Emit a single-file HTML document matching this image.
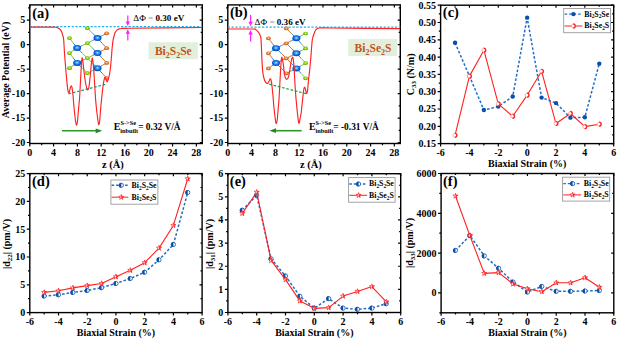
<!DOCTYPE html><html><head><meta charset="utf-8"><style>html,body{margin:0;padding:0;background:#fff;overflow:hidden;width:617px;height:339px;}svg{display:block;}</style></head><body>
<svg width="617" height="339" viewBox="0 0 617 339">
<defs>
<radialGradient id="gBi" cx="50%" cy="45%" r="55%"><stop offset="0" stop-color="#b8f6ff"/><stop offset="0.3" stop-color="#3aa6fa"/><stop offset="0.7" stop-color="#0c5fdc"/><stop offset="1" stop-color="#0a3c98"/></radialGradient>
<radialGradient id="gS" cx="50%" cy="45%" r="55%"><stop offset="0" stop-color="#e8ff90"/><stop offset="0.45" stop-color="#8fd81a"/><stop offset="1" stop-color="#4f9a08"/></radialGradient>
<radialGradient id="gSe" cx="50%" cy="45%" r="55%"><stop offset="0" stop-color="#ffe0c0"/><stop offset="0.4" stop-color="#f09048"/><stop offset="1" stop-color="#b05010"/></radialGradient>
<clipPath id="cla"><rect x="29.8" y="4.9" width="172.5" height="138.6"/></clipPath>
<clipPath id="clb"><rect x="227.8" y="4.9" width="172.5" height="138.6"/></clipPath>
</defs>
<rect width="617" height="339" fill="#fff"/>
<g font-family="'Liberation Serif', serif" font-weight="bold" fill="#000">
<rect x="29.80" y="4.90" width="172.50" height="138.60" fill="none" stroke="#000" stroke-width="1.4"/>
<path d="M29.80,143.50v3 M29.80,4.90v2.6 M53.59,143.50v3 M53.59,4.90v2.6 M77.39,143.50v3 M77.39,4.90v2.6 M101.18,143.50v3 M101.18,4.90v2.6 M124.97,143.50v3 M124.97,4.90v2.6 M148.77,143.50v3 M148.77,4.90v2.6 M172.56,143.50v3 M172.56,4.90v2.6 M196.35,143.50v3 M196.35,4.90v2.6 M41.70,143.50v1.8 M41.70,4.90v1.6 M65.49,143.50v1.8 M65.49,4.90v1.6 M89.28,143.50v1.8 M89.28,4.90v1.6 M113.08,143.50v1.8 M113.08,4.90v1.6 M136.87,143.50v1.8 M136.87,4.90v1.6 M160.66,143.50v1.8 M160.66,4.90v1.6 M184.46,143.50v1.8 M184.46,4.90v1.6 M29.80,142.52h-3 M202.30,142.52h-2.6 M29.80,118.03h-3 M202.30,118.03h-2.6 M29.80,93.55h-3 M202.30,93.55h-2.6 M29.80,69.06h-3 M202.30,69.06h-2.6 M29.80,44.57h-3 M202.30,44.57h-2.6 M29.80,20.08h-3 M202.30,20.08h-2.6 M29.80,130.28h-1.8 M202.30,130.28h-1.6 M29.80,105.79h-1.8 M202.30,105.79h-1.6 M29.80,81.30h-1.8 M202.30,81.30h-1.6 M29.80,56.81h-1.8 M202.30,56.81h-1.6 M29.80,32.33h-1.8 M202.30,32.33h-1.6 M29.80,7.84h-1.8 M202.30,7.84h-1.6" stroke="#000" stroke-width="1.2" fill="none"/>
<text x="29.80" y="155.80" text-anchor="middle" font-size="10.0">0</text>
<text x="53.59" y="155.80" text-anchor="middle" font-size="10.0">4</text>
<text x="77.39" y="155.80" text-anchor="middle" font-size="10.0">8</text>
<text x="101.18" y="155.80" text-anchor="middle" font-size="10.0">12</text>
<text x="124.97" y="155.80" text-anchor="middle" font-size="10.0">16</text>
<text x="148.77" y="155.80" text-anchor="middle" font-size="10.0">20</text>
<text x="172.56" y="155.80" text-anchor="middle" font-size="10.0">24</text>
<text x="196.35" y="155.80" text-anchor="middle" font-size="10.0">28</text>
<text x="25.20" y="145.92" text-anchor="end" font-size="10.0">-20</text>
<text x="25.20" y="121.43" text-anchor="end" font-size="10.0">-15</text>
<text x="25.20" y="96.95" text-anchor="end" font-size="10.0">-10</text>
<text x="25.20" y="72.46" text-anchor="end" font-size="10.0">-5</text>
<text x="25.20" y="47.97" text-anchor="end" font-size="10.0">0</text>
<text x="25.20" y="23.48" text-anchor="end" font-size="10.0">5</text>
<text x="112.90" y="168.3" text-anchor="middle" font-size="10.5">z (Å)</text>
<rect x="227.80" y="4.90" width="172.50" height="138.60" fill="none" stroke="#000" stroke-width="1.4"/>
<path d="M227.80,143.50v3 M227.80,4.90v2.6 M251.59,143.50v3 M251.59,4.90v2.6 M275.39,143.50v3 M275.39,4.90v2.6 M299.18,143.50v3 M299.18,4.90v2.6 M322.97,143.50v3 M322.97,4.90v2.6 M346.77,143.50v3 M346.77,4.90v2.6 M370.56,143.50v3 M370.56,4.90v2.6 M394.35,143.50v3 M394.35,4.90v2.6 M239.70,143.50v1.8 M239.70,4.90v1.6 M263.49,143.50v1.8 M263.49,4.90v1.6 M287.28,143.50v1.8 M287.28,4.90v1.6 M311.08,143.50v1.8 M311.08,4.90v1.6 M334.87,143.50v1.8 M334.87,4.90v1.6 M358.66,143.50v1.8 M358.66,4.90v1.6 M382.46,143.50v1.8 M382.46,4.90v1.6 M227.80,142.52h-3 M400.30,142.52h-2.6 M227.80,118.03h-3 M400.30,118.03h-2.6 M227.80,93.55h-3 M400.30,93.55h-2.6 M227.80,69.06h-3 M400.30,69.06h-2.6 M227.80,44.57h-3 M400.30,44.57h-2.6 M227.80,20.08h-3 M400.30,20.08h-2.6 M227.80,130.28h-1.8 M400.30,130.28h-1.6 M227.80,105.79h-1.8 M400.30,105.79h-1.6 M227.80,81.30h-1.8 M400.30,81.30h-1.6 M227.80,56.81h-1.8 M400.30,56.81h-1.6 M227.80,32.33h-1.8 M400.30,32.33h-1.6 M227.80,7.84h-1.8 M400.30,7.84h-1.6" stroke="#000" stroke-width="1.2" fill="none"/>
<text x="227.80" y="155.80" text-anchor="middle" font-size="10.0">0</text>
<text x="251.59" y="155.80" text-anchor="middle" font-size="10.0">4</text>
<text x="275.39" y="155.80" text-anchor="middle" font-size="10.0">8</text>
<text x="299.18" y="155.80" text-anchor="middle" font-size="10.0">12</text>
<text x="322.97" y="155.80" text-anchor="middle" font-size="10.0">16</text>
<text x="346.77" y="155.80" text-anchor="middle" font-size="10.0">20</text>
<text x="370.56" y="155.80" text-anchor="middle" font-size="10.0">24</text>
<text x="394.35" y="155.80" text-anchor="middle" font-size="10.0">28</text>
<text x="223.20" y="145.92" text-anchor="end" font-size="10.0">-20</text>
<text x="223.20" y="121.43" text-anchor="end" font-size="10.0">-15</text>
<text x="223.20" y="96.95" text-anchor="end" font-size="10.0">-10</text>
<text x="223.20" y="72.46" text-anchor="end" font-size="10.0">-5</text>
<text x="223.20" y="47.97" text-anchor="end" font-size="10.0">0</text>
<text x="223.20" y="23.48" text-anchor="end" font-size="10.0">5</text>
<text x="310.90" y="168.3" text-anchor="middle" font-size="10.5">z (Å)</text>
<text transform="translate(8.90,70.00) rotate(-90)" text-anchor="middle" font-size="10.0">Average Potential (eV)</text>
<line x1="29.8" y1="26.6" x2="202.3" y2="26.6" stroke="#1eb2f0" stroke-width="1.2" stroke-dasharray="2.2,1.6"/>
<line x1="69.50" y1="38.10" x2="73.30" y2="43.05" stroke="#7ccf1a" stroke-width="1.0"/>
<line x1="73.30" y1="43.05" x2="77.10" y2="48.00" stroke="#2585e5" stroke-width="1.0"/>
<line x1="69.50" y1="53.10" x2="73.30" y2="50.55" stroke="#7ccf1a" stroke-width="1.0"/>
<line x1="73.30" y1="50.55" x2="77.10" y2="48.00" stroke="#2585e5" stroke-width="1.0"/>
<line x1="69.50" y1="53.10" x2="73.30" y2="58.00" stroke="#7ccf1a" stroke-width="1.0"/>
<line x1="73.30" y1="58.00" x2="77.10" y2="62.90" stroke="#2585e5" stroke-width="1.0"/>
<line x1="69.50" y1="68.20" x2="73.30" y2="65.55" stroke="#7ccf1a" stroke-width="1.0"/>
<line x1="73.30" y1="65.55" x2="77.10" y2="62.90" stroke="#2585e5" stroke-width="1.0"/>
<line x1="77.10" y1="48.00" x2="82.25" y2="45.55" stroke="#2585e5" stroke-width="1.0"/>
<line x1="82.25" y1="45.55" x2="87.40" y2="43.10" stroke="#7ccf1a" stroke-width="1.0"/>
<line x1="77.10" y1="48.00" x2="82.25" y2="53.05" stroke="#2585e5" stroke-width="1.0"/>
<line x1="82.25" y1="53.05" x2="87.40" y2="58.10" stroke="#7ccf1a" stroke-width="1.0"/>
<line x1="77.10" y1="62.90" x2="82.25" y2="60.50" stroke="#2585e5" stroke-width="1.0"/>
<line x1="82.25" y1="60.50" x2="87.40" y2="58.10" stroke="#7ccf1a" stroke-width="1.0"/>
<line x1="77.10" y1="62.90" x2="82.25" y2="68.00" stroke="#2585e5" stroke-width="1.0"/>
<line x1="82.25" y1="68.00" x2="87.40" y2="73.10" stroke="#7ccf1a" stroke-width="1.0"/>
<line x1="87.40" y1="28.20" x2="92.45" y2="33.15" stroke="#7ccf1a" stroke-width="1.0"/>
<line x1="92.45" y1="33.15" x2="97.50" y2="38.10" stroke="#2585e5" stroke-width="1.0"/>
<line x1="87.40" y1="43.10" x2="92.45" y2="40.60" stroke="#7ccf1a" stroke-width="1.0"/>
<line x1="92.45" y1="40.60" x2="97.50" y2="38.10" stroke="#2585e5" stroke-width="1.0"/>
<line x1="87.40" y1="43.10" x2="92.45" y2="48.10" stroke="#7ccf1a" stroke-width="1.0"/>
<line x1="92.45" y1="48.10" x2="97.50" y2="53.10" stroke="#2585e5" stroke-width="1.0"/>
<line x1="87.40" y1="58.10" x2="92.45" y2="55.60" stroke="#7ccf1a" stroke-width="1.0"/>
<line x1="92.45" y1="55.60" x2="97.50" y2="53.10" stroke="#2585e5" stroke-width="1.0"/>
<line x1="87.40" y1="58.10" x2="92.45" y2="63.15" stroke="#7ccf1a" stroke-width="1.0"/>
<line x1="92.45" y1="63.15" x2="97.50" y2="68.20" stroke="#2585e5" stroke-width="1.0"/>
<line x1="87.40" y1="73.10" x2="92.45" y2="70.65" stroke="#7ccf1a" stroke-width="1.0"/>
<line x1="92.45" y1="70.65" x2="97.50" y2="68.20" stroke="#2585e5" stroke-width="1.0"/>
<line x1="97.50" y1="38.10" x2="102.10" y2="35.70" stroke="#2585e5" stroke-width="1.0"/>
<line x1="102.10" y1="35.70" x2="106.70" y2="33.30" stroke="#d8742a" stroke-width="1.0"/>
<line x1="97.50" y1="38.10" x2="102.10" y2="43.15" stroke="#2585e5" stroke-width="1.0"/>
<line x1="102.10" y1="43.15" x2="106.70" y2="48.20" stroke="#d8742a" stroke-width="1.0"/>
<line x1="97.50" y1="53.10" x2="102.10" y2="50.65" stroke="#2585e5" stroke-width="1.0"/>
<line x1="102.10" y1="50.65" x2="106.70" y2="48.20" stroke="#d8742a" stroke-width="1.0"/>
<line x1="97.50" y1="53.10" x2="102.10" y2="58.00" stroke="#2585e5" stroke-width="1.0"/>
<line x1="102.10" y1="58.00" x2="106.70" y2="62.90" stroke="#d8742a" stroke-width="1.0"/>
<line x1="97.50" y1="68.20" x2="102.10" y2="65.55" stroke="#2585e5" stroke-width="1.0"/>
<line x1="102.10" y1="65.55" x2="106.70" y2="62.90" stroke="#d8742a" stroke-width="1.0"/>
<line x1="97.50" y1="68.20" x2="102.10" y2="73.15" stroke="#2585e5" stroke-width="1.0"/>
<line x1="102.10" y1="73.15" x2="106.70" y2="78.10" stroke="#d8742a" stroke-width="1.0"/>
<ellipse cx="69.50" cy="38.10" rx="2.4" ry="1.85" fill="url(#gS)"/>
<ellipse cx="69.50" cy="53.10" rx="2.4" ry="1.85" fill="url(#gS)"/>
<ellipse cx="69.50" cy="68.20" rx="2.4" ry="1.85" fill="url(#gS)"/>
<ellipse cx="77.10" cy="48.00" rx="4.0" ry="3.0" fill="url(#gBi)"/>
<ellipse cx="77.10" cy="62.90" rx="4.0" ry="3.0" fill="url(#gBi)"/>
<ellipse cx="87.40" cy="28.20" rx="2.4" ry="1.85" fill="url(#gS)"/>
<ellipse cx="87.40" cy="43.10" rx="2.4" ry="1.85" fill="url(#gS)"/>
<ellipse cx="87.40" cy="58.10" rx="2.4" ry="1.85" fill="url(#gS)"/>
<ellipse cx="87.40" cy="73.10" rx="2.4" ry="1.85" fill="url(#gS)"/>
<ellipse cx="97.50" cy="38.10" rx="4.0" ry="3.0" fill="url(#gBi)"/>
<ellipse cx="97.50" cy="53.10" rx="4.0" ry="3.0" fill="url(#gBi)"/>
<ellipse cx="97.50" cy="68.20" rx="4.0" ry="3.0" fill="url(#gBi)"/>
<ellipse cx="106.70" cy="33.30" rx="2.4" ry="1.85" fill="url(#gSe)"/>
<ellipse cx="106.70" cy="48.20" rx="2.4" ry="1.85" fill="url(#gSe)"/>
<ellipse cx="106.70" cy="62.90" rx="2.4" ry="1.85" fill="url(#gSe)"/>
<ellipse cx="106.70" cy="78.10" rx="2.4" ry="1.85" fill="url(#gSe)"/>
<path d="M29.80,27.10 C33.50,27.10 47.67,27.07 52.00,27.10 C56.33,27.13 54.78,27.15 55.80,27.30 C56.82,27.45 57.35,27.60 58.10,28.00 C58.85,28.40 59.70,29.03 60.30,29.70 C60.90,30.37 61.32,31.15 61.70,32.00 C62.08,32.85 62.28,33.62 62.60,34.80 C62.92,35.98 63.28,36.07 63.60,39.10 C63.92,42.13 64.25,49.35 64.50,53.00 C64.75,56.65 64.85,57.83 65.10,61.00 C65.35,64.17 65.68,68.33 66.00,72.00 C66.32,75.67 66.70,80.03 67.00,83.00 C67.30,85.97 67.53,88.17 67.80,89.80 C68.07,91.43 68.32,92.52 68.60,92.80 C68.88,93.08 69.20,92.38 69.50,91.50 C69.80,90.62 70.10,88.45 70.40,87.50 C70.70,86.55 71.03,85.80 71.30,85.80 C71.57,85.80 71.78,86.55 72.00,87.50 C72.22,88.45 72.42,90.08 72.60,91.50 C72.78,92.92 72.88,93.58 73.10,96.00 C73.32,98.42 73.60,102.67 73.90,106.00 C74.20,109.33 74.57,113.17 74.90,116.00 C75.23,118.83 75.60,121.50 75.90,123.00 C76.20,124.50 76.43,125.33 76.70,125.00 C76.97,124.67 77.23,123.17 77.50,121.00 C77.77,118.83 78.05,114.83 78.30,112.00 C78.55,109.17 78.78,106.33 79.00,104.00 C79.22,101.67 79.40,100.92 79.60,98.00 C79.80,95.08 79.98,90.58 80.20,86.50 C80.42,82.42 80.68,77.42 80.90,73.50 C81.12,69.58 81.28,65.60 81.50,63.00 C81.72,60.40 81.98,58.23 82.20,57.90 C82.42,57.57 82.58,59.48 82.80,61.00 C83.02,62.52 83.25,64.83 83.50,67.00 C83.75,69.17 84.03,71.83 84.30,74.00 C84.57,76.17 84.82,78.17 85.10,80.00 C85.38,81.83 85.68,83.50 86.00,85.00 C86.32,86.50 86.70,88.20 87.00,89.00 C87.30,89.80 87.55,89.88 87.80,89.80 C88.05,89.72 88.30,89.05 88.50,88.50 C88.70,87.95 88.78,87.92 89.00,86.50 C89.22,85.08 89.55,82.17 89.80,80.00 C90.05,77.83 90.28,75.83 90.50,73.50 C90.72,71.17 90.92,67.95 91.10,66.00 C91.28,64.05 91.42,63.15 91.60,61.80 C91.78,60.45 91.98,58.03 92.20,57.90 C92.42,57.77 92.68,59.48 92.90,61.00 C93.12,62.52 93.28,64.33 93.50,67.00 C93.72,69.67 93.98,73.75 94.20,77.00 C94.42,80.25 94.58,83.00 94.80,86.50 C95.02,90.00 95.25,94.58 95.50,98.00 C95.75,101.42 96.02,104.17 96.30,107.00 C96.58,109.83 96.90,112.58 97.20,115.00 C97.50,117.42 97.82,119.87 98.10,121.50 C98.38,123.13 98.63,124.88 98.90,124.80 C99.17,124.72 99.47,122.97 99.70,121.00 C99.93,119.03 100.10,115.53 100.30,113.00 C100.50,110.47 100.67,108.30 100.90,105.80 C101.13,103.30 101.43,100.57 101.70,98.00 C101.97,95.43 102.23,92.65 102.50,90.40 C102.77,88.15 103.05,86.17 103.30,84.50 C103.55,82.83 103.78,81.48 104.00,80.40 C104.22,79.32 104.42,78.52 104.60,78.00 C104.78,77.48 104.92,77.30 105.10,77.30 C105.28,77.30 105.48,77.47 105.70,78.00 C105.92,78.53 106.17,79.85 106.40,80.50 C106.63,81.15 106.87,81.85 107.10,81.90 C107.33,81.95 107.55,81.45 107.80,80.80 C108.05,80.15 108.33,78.97 108.60,78.00 C108.87,77.03 109.17,76.17 109.40,75.00 C109.63,73.83 109.80,72.42 110.00,71.00 C110.20,69.58 110.42,68.17 110.60,66.50 C110.78,64.83 110.93,62.92 111.10,61.00 C111.27,59.08 111.45,56.92 111.60,55.00 C111.75,53.08 111.87,51.08 112.00,49.50 C112.13,47.92 112.23,47.00 112.40,45.50 C112.57,44.00 112.77,41.92 113.00,40.50 C113.23,39.08 113.57,37.95 113.80,37.00 C114.03,36.05 114.17,35.53 114.40,34.80 C114.63,34.07 114.82,33.35 115.20,32.60 C115.58,31.85 116.05,30.93 116.70,30.30 C117.35,29.68 118.22,29.16 119.10,28.85 C119.98,28.54 120.18,28.54 122.00,28.45 C123.82,28.36 116.62,28.46 130.00,28.30 C143.38,28.14 190.25,27.63 202.30,27.50" fill="none" stroke="#ff2020" stroke-width="1.15" stroke-linejoin="round" clip-path="url(#cla)"/>
<line x1="68.6" y1="93.9" x2="106.9" y2="83.9" stroke="#0e9a64" stroke-width="1.2" stroke-dasharray="2.6,1.8"/>
<line x1="127.80" y1="15.40" x2="127.80" y2="22.50" stroke="#ff20ff" stroke-width="1.2"/><path d="M125.60,21.50 L130.00,21.50 L127.80,26.00 Z" fill="#ff20ff"/>
<line x1="127.80" y1="40.40" x2="127.80" y2="32.70" stroke="#ff20ff" stroke-width="1.2"/><path d="M125.60,33.70 L130.00,33.70 L127.80,29.20 Z" fill="#ff20ff"/>
<text x="133.3" y="20.6" font-size="9.1"><tspan font-weight="normal">ΔΦ</tspan> <tspan fill="#9a9a9a" font-weight="normal">=</tspan> 0.30 eV</text>
<rect x="148.5" y="42.3" width="49.3" height="16.9" fill="#e2efda"/>
<text x="173.3" y="55.0" text-anchor="middle" font-size="11.5" fill="#c4531a">Bi<tspan font-size="8" dy="2.5">2</tspan><tspan dy="-2.5">S</tspan><tspan font-size="8" dy="2.5">2</tspan><tspan dy="-2.5">Se</tspan></text>
<line x1="62.00" y1="130.80" x2="97.20" y2="130.80" stroke="#2a9a2a" stroke-width="1.6"/><path d="M95.70,128.40 L95.70,133.20 L102.20,130.80 Z" fill="#1f8a1f"/>
<text x="113.8" y="129.5" font-size="10">E<tspan font-size="6.3" dy="-4.6">S-&gt;Se</tspan><tspan font-size="6.3" x="120.3" dy="7.6">inbuilt</tspan><tspan x="138.2" dy="-3" font-size="9.4">= 0.32 V/Å</tspan></text>
<text x="32.2" y="17.8" font-size="14.5">(a)</text>
<line x1="227.8" y1="27.2" x2="400.3" y2="27.2" stroke="#1eb2f0" stroke-width="1.2" stroke-dasharray="2.2,1.6"/>
<line x1="268.40" y1="38.30" x2="272.20" y2="43.25" stroke="#d8742a" stroke-width="1.0"/>
<line x1="272.20" y1="43.25" x2="276.00" y2="48.20" stroke="#2585e5" stroke-width="1.0"/>
<line x1="268.40" y1="53.30" x2="272.20" y2="50.75" stroke="#d8742a" stroke-width="1.0"/>
<line x1="272.20" y1="50.75" x2="276.00" y2="48.20" stroke="#2585e5" stroke-width="1.0"/>
<line x1="268.40" y1="53.30" x2="272.20" y2="58.20" stroke="#d8742a" stroke-width="1.0"/>
<line x1="272.20" y1="58.20" x2="276.00" y2="63.10" stroke="#2585e5" stroke-width="1.0"/>
<line x1="268.40" y1="68.40" x2="272.20" y2="65.75" stroke="#d8742a" stroke-width="1.0"/>
<line x1="272.20" y1="65.75" x2="276.00" y2="63.10" stroke="#2585e5" stroke-width="1.0"/>
<line x1="276.00" y1="48.20" x2="281.15" y2="45.75" stroke="#2585e5" stroke-width="1.0"/>
<line x1="281.15" y1="45.75" x2="286.30" y2="43.30" stroke="#d8742a" stroke-width="1.0"/>
<line x1="276.00" y1="48.20" x2="281.15" y2="53.25" stroke="#2585e5" stroke-width="1.0"/>
<line x1="281.15" y1="53.25" x2="286.30" y2="58.30" stroke="#d8742a" stroke-width="1.0"/>
<line x1="276.00" y1="63.10" x2="281.15" y2="60.70" stroke="#2585e5" stroke-width="1.0"/>
<line x1="281.15" y1="60.70" x2="286.30" y2="58.30" stroke="#d8742a" stroke-width="1.0"/>
<line x1="276.00" y1="63.10" x2="281.15" y2="68.20" stroke="#2585e5" stroke-width="1.0"/>
<line x1="281.15" y1="68.20" x2="286.30" y2="73.30" stroke="#d8742a" stroke-width="1.0"/>
<line x1="286.30" y1="28.40" x2="291.35" y2="33.35" stroke="#d8742a" stroke-width="1.0"/>
<line x1="291.35" y1="33.35" x2="296.40" y2="38.30" stroke="#2585e5" stroke-width="1.0"/>
<line x1="286.30" y1="43.30" x2="291.35" y2="40.80" stroke="#d8742a" stroke-width="1.0"/>
<line x1="291.35" y1="40.80" x2="296.40" y2="38.30" stroke="#2585e5" stroke-width="1.0"/>
<line x1="286.30" y1="43.30" x2="291.35" y2="48.30" stroke="#d8742a" stroke-width="1.0"/>
<line x1="291.35" y1="48.30" x2="296.40" y2="53.30" stroke="#2585e5" stroke-width="1.0"/>
<line x1="286.30" y1="58.30" x2="291.35" y2="55.80" stroke="#d8742a" stroke-width="1.0"/>
<line x1="291.35" y1="55.80" x2="296.40" y2="53.30" stroke="#2585e5" stroke-width="1.0"/>
<line x1="286.30" y1="58.30" x2="291.35" y2="63.35" stroke="#d8742a" stroke-width="1.0"/>
<line x1="291.35" y1="63.35" x2="296.40" y2="68.40" stroke="#2585e5" stroke-width="1.0"/>
<line x1="286.30" y1="73.30" x2="291.35" y2="70.85" stroke="#d8742a" stroke-width="1.0"/>
<line x1="291.35" y1="70.85" x2="296.40" y2="68.40" stroke="#2585e5" stroke-width="1.0"/>
<line x1="296.40" y1="38.30" x2="301.00" y2="35.90" stroke="#2585e5" stroke-width="1.0"/>
<line x1="301.00" y1="35.90" x2="305.60" y2="33.50" stroke="#7ccf1a" stroke-width="1.0"/>
<line x1="296.40" y1="38.30" x2="301.00" y2="43.35" stroke="#2585e5" stroke-width="1.0"/>
<line x1="301.00" y1="43.35" x2="305.60" y2="48.40" stroke="#7ccf1a" stroke-width="1.0"/>
<line x1="296.40" y1="53.30" x2="301.00" y2="50.85" stroke="#2585e5" stroke-width="1.0"/>
<line x1="301.00" y1="50.85" x2="305.60" y2="48.40" stroke="#7ccf1a" stroke-width="1.0"/>
<line x1="296.40" y1="53.30" x2="301.00" y2="58.20" stroke="#2585e5" stroke-width="1.0"/>
<line x1="301.00" y1="58.20" x2="305.60" y2="63.10" stroke="#7ccf1a" stroke-width="1.0"/>
<line x1="296.40" y1="68.40" x2="301.00" y2="65.75" stroke="#2585e5" stroke-width="1.0"/>
<line x1="301.00" y1="65.75" x2="305.60" y2="63.10" stroke="#7ccf1a" stroke-width="1.0"/>
<line x1="296.40" y1="68.40" x2="301.00" y2="73.35" stroke="#2585e5" stroke-width="1.0"/>
<line x1="301.00" y1="73.35" x2="305.60" y2="78.30" stroke="#7ccf1a" stroke-width="1.0"/>
<ellipse cx="268.40" cy="38.30" rx="2.4" ry="1.85" fill="url(#gSe)"/>
<ellipse cx="268.40" cy="53.30" rx="2.4" ry="1.85" fill="url(#gSe)"/>
<ellipse cx="268.40" cy="68.40" rx="2.4" ry="1.85" fill="url(#gSe)"/>
<ellipse cx="276.00" cy="48.20" rx="4.0" ry="3.0" fill="url(#gBi)"/>
<ellipse cx="276.00" cy="63.10" rx="4.0" ry="3.0" fill="url(#gBi)"/>
<ellipse cx="286.30" cy="28.40" rx="2.4" ry="1.85" fill="url(#gSe)"/>
<ellipse cx="286.30" cy="43.30" rx="2.4" ry="1.85" fill="url(#gSe)"/>
<ellipse cx="286.30" cy="58.30" rx="2.4" ry="1.85" fill="url(#gSe)"/>
<ellipse cx="286.30" cy="73.30" rx="2.4" ry="1.85" fill="url(#gSe)"/>
<ellipse cx="296.40" cy="38.30" rx="4.0" ry="3.0" fill="url(#gBi)"/>
<ellipse cx="296.40" cy="53.30" rx="4.0" ry="3.0" fill="url(#gBi)"/>
<ellipse cx="296.40" cy="68.40" rx="4.0" ry="3.0" fill="url(#gBi)"/>
<ellipse cx="305.60" cy="33.50" rx="2.4" ry="1.85" fill="url(#gS)"/>
<ellipse cx="305.60" cy="48.40" rx="2.4" ry="1.85" fill="url(#gS)"/>
<ellipse cx="305.60" cy="63.10" rx="2.4" ry="1.85" fill="url(#gS)"/>
<ellipse cx="305.60" cy="78.30" rx="2.4" ry="1.85" fill="url(#gS)"/>
<path d="M227.80,29.00 C231.97,29.00 248.13,28.88 252.80,29.00 C257.47,29.12 254.90,29.23 255.80,29.70 C256.70,30.17 257.52,30.97 258.20,31.80 C258.88,32.63 259.43,33.52 259.90,34.70 C260.37,35.88 260.75,36.92 261.00,38.90 C261.25,40.88 261.25,43.25 261.40,46.60 C261.55,49.95 261.68,54.87 261.90,59.00 C262.12,63.13 262.35,68.15 262.70,71.40 C263.05,74.65 263.50,76.67 264.00,78.50 C264.50,80.33 265.12,81.58 265.70,82.40 C266.28,83.22 266.97,83.55 267.50,83.40 C268.03,83.25 268.45,82.27 268.90,81.50 C269.35,80.73 269.85,79.05 270.20,78.80 C270.55,78.55 270.77,79.32 271.00,80.00 C271.23,80.68 271.38,81.38 271.60,82.90 C271.82,84.42 272.07,86.92 272.30,89.10 C272.53,91.28 272.73,93.02 273.00,96.00 C273.27,98.98 273.58,103.67 273.90,107.00 C274.22,110.33 274.58,113.45 274.90,116.00 C275.22,118.55 275.55,121.08 275.80,122.30 C276.05,123.52 276.17,123.68 276.40,123.30 C276.63,122.92 276.93,122.05 277.20,120.00 C277.47,117.95 277.75,113.83 278.00,111.00 C278.25,108.17 278.50,105.50 278.70,103.00 C278.90,100.50 279.02,99.08 279.20,96.00 C279.38,92.92 279.58,88.58 279.80,84.50 C280.02,80.42 280.27,75.42 280.50,71.50 C280.73,67.58 280.98,63.38 281.20,61.00 C281.42,58.62 281.58,57.37 281.80,57.20 C282.02,57.03 282.23,58.70 282.50,60.00 C282.77,61.30 283.08,62.67 283.40,65.00 C283.72,67.33 284.02,71.73 284.40,74.00 C284.78,76.27 285.27,77.72 285.70,78.60 C286.13,79.48 286.62,79.40 287.00,79.30 C287.38,79.20 287.68,78.65 288.00,78.00 C288.32,77.35 288.53,77.13 288.90,75.40 C289.27,73.67 289.77,70.20 290.20,67.60 C290.63,65.00 291.17,61.47 291.50,59.80 C291.83,58.13 291.98,58.03 292.20,57.60 C292.42,57.17 292.60,56.80 292.80,57.20 C293.00,57.60 293.18,58.27 293.40,60.00 C293.62,61.73 293.83,63.52 294.10,67.60 C294.37,71.68 294.72,79.77 295.00,84.50 C295.28,89.23 295.50,92.25 295.80,96.00 C296.10,99.75 296.47,103.58 296.80,107.00 C297.13,110.42 297.52,114.03 297.80,116.50 C298.08,118.97 298.28,120.67 298.50,121.80 C298.72,122.93 298.88,123.60 299.10,123.30 C299.32,123.00 299.55,121.22 299.80,120.00 C300.05,118.78 300.35,117.33 300.60,116.00 C300.85,114.67 301.07,113.83 301.30,112.00 C301.53,110.17 301.78,107.02 302.00,105.00 C302.22,102.98 302.42,101.57 302.60,99.90 C302.78,98.23 302.93,96.55 303.10,95.00 C303.27,93.45 303.45,91.72 303.60,90.60 C303.75,89.48 303.85,88.85 304.00,88.30 C304.15,87.75 304.33,87.40 304.50,87.30 C304.67,87.20 304.82,87.28 305.00,87.70 C305.18,88.12 305.40,89.03 305.60,89.80 C305.80,90.57 306.00,91.70 306.20,92.30 C306.40,92.90 306.60,93.53 306.80,93.40 C307.00,93.27 307.20,92.73 307.40,91.50 C307.60,90.27 307.82,87.92 308.00,86.00 C308.18,84.08 308.32,81.83 308.50,80.00 C308.68,78.17 308.88,76.83 309.10,75.00 C309.32,73.17 309.58,71.17 309.80,69.00 C310.02,66.83 310.20,64.23 310.40,62.00 C310.60,59.77 310.80,58.02 311.00,55.60 C311.20,53.18 311.40,50.02 311.60,47.50 C311.80,44.98 311.95,42.33 312.20,40.50 C312.45,38.67 312.75,37.75 313.10,36.50 C313.45,35.25 313.87,34.08 314.30,33.00 C314.73,31.92 315.12,30.78 315.70,30.00 C316.28,29.22 317.08,28.63 317.80,28.30 C318.52,27.97 317.97,28.05 320.00,28.00 C322.03,27.95 316.62,27.89 330.00,28.00 C343.38,28.11 388.58,28.54 400.30,28.65" fill="none" stroke="#ff2020" stroke-width="1.15" stroke-linejoin="round" clip-path="url(#clb)"/>
<line x1="269.3" y1="84.2" x2="307.3" y2="94.0" stroke="#18a030" stroke-width="1.2" stroke-dasharray="2.6,1.8"/>
<line x1="250.60" y1="15.00" x2="250.60" y2="22.80" stroke="#ff20ff" stroke-width="1.2"/><path d="M248.40,21.80 L252.80,21.80 L250.60,26.30 Z" fill="#ff20ff"/>
<line x1="250.60" y1="41.60" x2="250.60" y2="33.50" stroke="#ff20ff" stroke-width="1.2"/><path d="M248.40,34.50 L252.80,34.50 L250.60,30.00 Z" fill="#ff20ff"/>
<text x="254.6" y="24.8" font-size="9.1"><tspan font-weight="normal">ΔΦ</tspan> <tspan fill="#9a9a9a" font-weight="normal">=</tspan> 0.36 eV</text>
<rect x="348.2" y="39.1" width="48.9" height="17" fill="#e2efda"/>
<text x="373.0" y="52.1" text-anchor="middle" font-size="11.5" fill="#c4531a">Bi<tspan font-size="8" dy="2.5">2</tspan><tspan dy="-2.5">Se</tspan><tspan font-size="8" dy="2.5">2</tspan><tspan dy="-2.5">S</tspan></text>
<line x1="274.50" y1="130.70" x2="301.70" y2="130.70" stroke="#2a9a2a" stroke-width="1.6"/><path d="M276.00,128.30 L276.00,133.10 L269.50,130.70 Z" fill="#1f8a1f"/>
<text x="308.9" y="129.5" font-size="10">E<tspan font-size="6.3" dy="-4.6">S-&gt;Se</tspan><tspan font-size="6.3" x="315.4" dy="7.6">inbuilt</tspan><tspan x="333.3" dy="-3" font-size="9.4">= -0.31 V/Å</tspan></text>
<text x="229.9" y="17.2" font-size="14.5">(b)</text>
<rect x="440.60" y="5.20" width="173.10" height="138.40" fill="none" stroke="#000" stroke-width="1.4"/>
<path d="M440.60,143.60v3 M440.60,5.20v2.6 M469.45,143.60v3 M469.45,5.20v2.6 M498.30,143.60v3 M498.30,5.20v2.6 M527.15,143.60v3 M527.15,5.20v2.6 M556.00,143.60v3 M556.00,5.20v2.6 M584.85,143.60v3 M584.85,5.20v2.6 M613.70,143.60v3 M613.70,5.20v2.6 M455.03,143.60v1.8 M455.03,5.20v1.6 M483.88,143.60v1.8 M483.88,5.20v1.6 M512.73,143.60v1.8 M512.73,5.20v1.6 M541.58,143.60v1.8 M541.58,5.20v1.6 M570.43,143.60v1.8 M570.43,5.20v1.6 M599.28,143.60v1.8 M599.28,5.20v1.6 M440.60,143.60h-3 M613.70,143.60h-2.6 M440.60,126.30h-3 M613.70,126.30h-2.6 M440.60,109.00h-3 M613.70,109.00h-2.6 M440.60,91.70h-3 M613.70,91.70h-2.6 M440.60,74.40h-3 M613.70,74.40h-2.6 M440.60,57.10h-3 M613.70,57.10h-2.6 M440.60,39.80h-3 M613.70,39.80h-2.6 M440.60,22.50h-3 M613.70,22.50h-2.6 M440.60,5.20h-3 M613.70,5.20h-2.6 M440.60,134.95h-1.8 M613.70,134.95h-1.6 M440.60,117.65h-1.8 M613.70,117.65h-1.6 M440.60,100.35h-1.8 M613.70,100.35h-1.6 M440.60,83.05h-1.8 M613.70,83.05h-1.6 M440.60,65.75h-1.8 M613.70,65.75h-1.6 M440.60,48.45h-1.8 M613.70,48.45h-1.6 M440.60,31.15h-1.8 M613.70,31.15h-1.6 M440.60,13.85h-1.8 M613.70,13.85h-1.6" stroke="#000" stroke-width="1.2" fill="none"/>
<text x="440.60" y="155.90" text-anchor="middle" font-size="10.0">-6</text>
<text x="469.45" y="155.90" text-anchor="middle" font-size="10.0">-4</text>
<text x="498.30" y="155.90" text-anchor="middle" font-size="10.0">-2</text>
<text x="527.15" y="155.90" text-anchor="middle" font-size="10.0">0</text>
<text x="556.00" y="155.90" text-anchor="middle" font-size="10.0">2</text>
<text x="584.85" y="155.90" text-anchor="middle" font-size="10.0">4</text>
<text x="613.70" y="155.90" text-anchor="middle" font-size="10.0">6</text>
<text x="436.00" y="147.00" text-anchor="end" font-size="10.0">0.15</text>
<text x="436.00" y="129.70" text-anchor="end" font-size="10.0">0.20</text>
<text x="436.00" y="112.40" text-anchor="end" font-size="10.0">0.25</text>
<text x="436.00" y="95.10" text-anchor="end" font-size="10.0">0.30</text>
<text x="436.00" y="77.80" text-anchor="end" font-size="10.0">0.35</text>
<text x="436.00" y="60.50" text-anchor="end" font-size="10.0">0.40</text>
<text x="436.00" y="43.20" text-anchor="end" font-size="10.0">0.45</text>
<text x="436.00" y="25.90" text-anchor="end" font-size="10.0">0.50</text>
<text x="436.00" y="8.60" text-anchor="end" font-size="10.0">0.55</text>
<text x="527.15" y="167.10" text-anchor="middle" font-size="10">Biaxial Strain (%)</text>
<path d="M455.03,42.71 L469.45,76.13 L483.88,110.04 L498.30,106.58 L512.73,96.54 L527.15,17.66 L541.58,97.58 L556.00,103.12 L570.43,117.65 L584.85,117.30 L599.28,63.67" fill="none" stroke="#1f6fc4" stroke-width="1.5" stroke-dasharray="2.6,1.9" stroke-linejoin="round"/>
<circle cx="455.03" cy="42.71" r="2.2" fill="#0a4fa8"/>
<circle cx="469.45" cy="76.13" r="2.2" fill="#0a4fa8"/>
<circle cx="483.88" cy="110.04" r="2.2" fill="#0a4fa8"/>
<circle cx="498.30" cy="106.58" r="2.2" fill="#0a4fa8"/>
<circle cx="512.73" cy="96.54" r="2.2" fill="#0a4fa8"/>
<circle cx="527.15" cy="17.66" r="2.2" fill="#0a4fa8"/>
<circle cx="541.58" cy="97.58" r="2.2" fill="#0a4fa8"/>
<circle cx="556.00" cy="103.12" r="2.2" fill="#0a4fa8"/>
<circle cx="570.43" cy="117.65" r="2.2" fill="#0a4fa8"/>
<circle cx="584.85" cy="117.30" r="2.2" fill="#0a4fa8"/>
<circle cx="599.28" cy="63.67" r="2.2" fill="#0a4fa8"/>
<path d="M455.03,135.30 L469.45,76.13 L483.88,50.18 L498.30,103.81 L512.73,116.27 L527.15,95.16 L541.58,71.29 L556.00,123.53 L570.43,113.50 L584.85,126.65 L599.28,124.22" fill="none" stroke="#ff2020" stroke-width="1.1"  stroke-linejoin="round"/>
<circle cx="455.03" cy="135.30" r="2.00" fill="#fff" stroke="#ff8c8c" stroke-width="0.7"/><path d="M454.83,133.30 A2.00,2.00 0 0 1 454.83,137.30" fill="none" stroke="#ff2020" stroke-width="1.3"/>
<circle cx="469.45" cy="76.13" r="2.00" fill="#fff" stroke="#ff8c8c" stroke-width="0.7"/><path d="M469.25,74.13 A2.00,2.00 0 0 1 469.25,78.13" fill="none" stroke="#ff2020" stroke-width="1.3"/>
<circle cx="483.88" cy="50.18" r="2.00" fill="#fff" stroke="#ff8c8c" stroke-width="0.7"/><path d="M483.68,48.18 A2.00,2.00 0 0 1 483.68,52.18" fill="none" stroke="#ff2020" stroke-width="1.3"/>
<circle cx="498.30" cy="103.81" r="2.00" fill="#fff" stroke="#ff8c8c" stroke-width="0.7"/><path d="M498.10,101.81 A2.00,2.00 0 0 1 498.10,105.81" fill="none" stroke="#ff2020" stroke-width="1.3"/>
<circle cx="512.73" cy="116.27" r="2.00" fill="#fff" stroke="#ff8c8c" stroke-width="0.7"/><path d="M512.52,114.27 A2.00,2.00 0 0 1 512.52,118.27" fill="none" stroke="#ff2020" stroke-width="1.3"/>
<circle cx="527.15" cy="95.16" r="2.00" fill="#fff" stroke="#ff8c8c" stroke-width="0.7"/><path d="M526.95,93.16 A2.00,2.00 0 0 1 526.95,97.16" fill="none" stroke="#ff2020" stroke-width="1.3"/>
<circle cx="541.58" cy="71.29" r="2.00" fill="#fff" stroke="#ff8c8c" stroke-width="0.7"/><path d="M541.38,69.29 A2.00,2.00 0 0 1 541.38,73.29" fill="none" stroke="#ff2020" stroke-width="1.3"/>
<circle cx="556.00" cy="123.53" r="2.00" fill="#fff" stroke="#ff8c8c" stroke-width="0.7"/><path d="M555.80,121.53 A2.00,2.00 0 0 1 555.80,125.53" fill="none" stroke="#ff2020" stroke-width="1.3"/>
<circle cx="570.43" cy="113.50" r="2.00" fill="#fff" stroke="#ff8c8c" stroke-width="0.7"/><path d="M570.23,111.50 A2.00,2.00 0 0 1 570.23,115.50" fill="none" stroke="#ff2020" stroke-width="1.3"/>
<circle cx="584.85" cy="126.65" r="2.00" fill="#fff" stroke="#ff8c8c" stroke-width="0.7"/><path d="M584.65,124.65 A2.00,2.00 0 0 1 584.65,128.65" fill="none" stroke="#ff2020" stroke-width="1.3"/>
<circle cx="599.28" cy="124.22" r="2.00" fill="#fff" stroke="#ff8c8c" stroke-width="0.7"/><path d="M599.08,122.22 A2.00,2.00 0 0 1 599.08,126.22" fill="none" stroke="#ff2020" stroke-width="1.3"/>
<rect x="563.70" y="8.50" width="46.80" height="24.20" fill="#fff" stroke="#9a9a9a" stroke-width="0.9"/>
<line x1="564.60" y1="14.10" x2="582.40" y2="14.10" stroke="#1f6fc4" stroke-width="1.4" stroke-dasharray="2.6,1.9"/>
<line x1="564.60" y1="26.00" x2="582.40" y2="26.00" stroke="#ff2020" stroke-width="1.0"/>
<circle cx="573.40" cy="14.10" r="2.2" fill="#0a4fa8"/>
<circle cx="573.40" cy="26.00" r="2.00" fill="#fff" stroke="#ff8c8c" stroke-width="0.7"/><path d="M573.20,24.00 A2.00,2.00 0 0 1 573.20,28.00" fill="none" stroke="#ff2020" stroke-width="1.3"/>
<text x="584.30" y="16.50" font-size="7.8">Bi<tspan font-size="5.3" dy="1.8">2</tspan><tspan dy="-1.8">S</tspan><tspan font-size="5.3" dy="1.8">2</tspan><tspan dy="-1.8">Se</tspan></text>
<text x="584.30" y="28.40" font-size="7.8">Bi<tspan font-size="5.3" dy="1.8">2</tspan><tspan dy="-1.8">Se</tspan><tspan font-size="5.3" dy="1.8">2</tspan><tspan dy="-1.8">S</tspan></text>
<text x="442.8" y="17.4" font-size="14.5">(c)</text>
<text transform="translate(414.20,74.40) rotate(-90)" text-anchor="middle" font-size="10.0">C<tspan font-size="7" dy="2">33</tspan><tspan dy="-2"> (N/m)</tspan></text>
<rect x="29.80" y="173.60" width="172.30" height="139.00" fill="none" stroke="#000" stroke-width="1.4"/>
<path d="M29.80,312.60v3 M29.80,173.60v2.6 M58.52,312.60v3 M58.52,173.60v2.6 M87.23,312.60v3 M87.23,173.60v2.6 M115.95,312.60v3 M115.95,173.60v2.6 M144.67,312.60v3 M144.67,173.60v2.6 M173.38,312.60v3 M173.38,173.60v2.6 M202.10,312.60v3 M202.10,173.60v2.6 M44.16,312.60v1.8 M44.16,173.60v1.6 M72.88,312.60v1.8 M72.88,173.60v1.6 M101.59,312.60v1.8 M101.59,173.60v1.6 M130.31,312.60v1.8 M130.31,173.60v1.6 M159.03,312.60v1.8 M159.03,173.60v1.6 M187.74,312.60v1.8 M187.74,173.60v1.6 M29.80,312.60h-3 M202.10,312.60h-2.6 M29.80,284.80h-3 M202.10,284.80h-2.6 M29.80,257.00h-3 M202.10,257.00h-2.6 M29.80,229.20h-3 M202.10,229.20h-2.6 M29.80,201.40h-3 M202.10,201.40h-2.6 M29.80,173.60h-3 M202.10,173.60h-2.6 M29.80,298.70h-1.8 M202.10,298.70h-1.6 M29.80,270.90h-1.8 M202.10,270.90h-1.6 M29.80,243.10h-1.8 M202.10,243.10h-1.6 M29.80,215.30h-1.8 M202.10,215.30h-1.6 M29.80,187.50h-1.8 M202.10,187.50h-1.6" stroke="#000" stroke-width="1.2" fill="none"/>
<text x="29.80" y="324.90" text-anchor="middle" font-size="10.0">-6</text>
<text x="58.52" y="324.90" text-anchor="middle" font-size="10.0">-4</text>
<text x="87.23" y="324.90" text-anchor="middle" font-size="10.0">-2</text>
<text x="115.95" y="324.90" text-anchor="middle" font-size="10.0">0</text>
<text x="144.67" y="324.90" text-anchor="middle" font-size="10.0">2</text>
<text x="173.38" y="324.90" text-anchor="middle" font-size="10.0">4</text>
<text x="202.10" y="324.90" text-anchor="middle" font-size="10.0">6</text>
<text x="25.20" y="316.00" text-anchor="end" font-size="10.0">0</text>
<text x="25.20" y="288.20" text-anchor="end" font-size="10.0">5</text>
<text x="25.20" y="260.40" text-anchor="end" font-size="10.0">10</text>
<text x="25.20" y="232.60" text-anchor="end" font-size="10.0">15</text>
<text x="25.20" y="204.80" text-anchor="end" font-size="10.0">20</text>
<text x="25.20" y="177.00" text-anchor="end" font-size="10.0">25</text>
<text x="115.95" y="336.10" text-anchor="middle" font-size="10">Biaxial Strain (%)</text>
<path d="M44.16,296.03 L58.52,294.81 L72.88,292.42 L87.23,290.53 L101.59,287.64 L115.95,283.52 L130.31,278.52 L144.67,272.23 L159.03,259.84 L173.38,244.49 L187.74,192.50" fill="none" stroke="#1f6fc4" stroke-width="1.5" stroke-dasharray="2.6,1.9" stroke-linejoin="round"/>
<circle cx="44.16" cy="296.03" r="2.10" fill="#fff" stroke="#0a4fa8" stroke-width="0.8"/><path d="M44.16,293.53 A2.50,2.50 0 0 0 44.16,298.53 Z" fill="#0a4fa8"/>
<circle cx="58.52" cy="294.81" r="2.10" fill="#fff" stroke="#0a4fa8" stroke-width="0.8"/><path d="M58.52,292.31 A2.50,2.50 0 0 0 58.52,297.31 Z" fill="#0a4fa8"/>
<circle cx="72.88" cy="292.42" r="2.10" fill="#fff" stroke="#0a4fa8" stroke-width="0.8"/><path d="M72.88,289.92 A2.50,2.50 0 0 0 72.88,294.92 Z" fill="#0a4fa8"/>
<circle cx="87.23" cy="290.53" r="2.10" fill="#fff" stroke="#0a4fa8" stroke-width="0.8"/><path d="M87.23,288.03 A2.50,2.50 0 0 0 87.23,293.03 Z" fill="#0a4fa8"/>
<circle cx="101.59" cy="287.64" r="2.10" fill="#fff" stroke="#0a4fa8" stroke-width="0.8"/><path d="M101.59,285.14 A2.50,2.50 0 0 0 101.59,290.14 Z" fill="#0a4fa8"/>
<circle cx="115.95" cy="283.52" r="2.10" fill="#fff" stroke="#0a4fa8" stroke-width="0.8"/><path d="M115.95,281.02 A2.50,2.50 0 0 0 115.95,286.02 Z" fill="#0a4fa8"/>
<circle cx="130.31" cy="278.52" r="2.10" fill="#fff" stroke="#0a4fa8" stroke-width="0.8"/><path d="M130.31,276.02 A2.50,2.50 0 0 0 130.31,281.02 Z" fill="#0a4fa8"/>
<circle cx="144.67" cy="272.23" r="2.10" fill="#fff" stroke="#0a4fa8" stroke-width="0.8"/><path d="M144.67,269.73 A2.50,2.50 0 0 0 144.67,274.73 Z" fill="#0a4fa8"/>
<circle cx="159.03" cy="259.84" r="2.10" fill="#fff" stroke="#0a4fa8" stroke-width="0.8"/><path d="M159.03,257.34 A2.50,2.50 0 0 0 159.03,262.34 Z" fill="#0a4fa8"/>
<circle cx="173.38" cy="244.49" r="2.10" fill="#fff" stroke="#0a4fa8" stroke-width="0.8"/><path d="M173.38,241.99 A2.50,2.50 0 0 0 173.38,246.99 Z" fill="#0a4fa8"/>
<circle cx="187.74" cy="192.50" r="2.10" fill="#fff" stroke="#0a4fa8" stroke-width="0.8"/><path d="M187.74,190.00 A2.50,2.50 0 0 0 187.74,195.00 Z" fill="#0a4fa8"/>
<path d="M44.16,292.42 L58.52,290.80 L72.88,287.91 L87.23,285.63 L101.59,283.52 L115.95,276.74 L130.31,270.34 L144.67,262.73 L159.03,248.10 L173.38,225.42 L187.74,178.77" fill="none" stroke="#ff2020" stroke-width="1.1"  stroke-linejoin="round"/>
<polygon points="44.16,289.72 44.80,291.53 46.73,291.58 45.20,292.76 45.75,294.60 44.16,293.52 42.57,294.60 43.11,292.76 41.59,291.58 43.51,291.53" fill="#fff" stroke="#ff2020" stroke-width="0.7"/><path d="M44.16,289.72 L44.80,291.53 L46.73,291.58 L45.20,292.76 L45.75,294.60 L44.16,293.52 Z" fill="#ff2020"/>
<polygon points="58.52,288.10 59.16,289.91 61.08,289.97 59.56,291.14 60.10,292.99 58.52,291.90 56.93,292.99 57.47,291.14 55.95,289.97 57.87,289.91" fill="#fff" stroke="#ff2020" stroke-width="0.7"/><path d="M58.52,288.10 L59.16,289.91 L61.08,289.97 L59.56,291.14 L60.10,292.99 L58.52,291.90 Z" fill="#ff2020"/>
<polygon points="72.88,285.21 73.52,287.02 75.44,287.08 73.92,288.25 74.46,290.10 72.88,289.01 71.29,290.10 71.83,288.25 70.31,287.08 72.23,287.02" fill="#fff" stroke="#ff2020" stroke-width="0.7"/><path d="M72.88,285.21 L73.52,287.02 L75.44,287.08 L73.92,288.25 L74.46,290.10 L72.88,289.01 Z" fill="#ff2020"/>
<polygon points="87.23,282.93 87.88,284.74 89.80,284.80 88.28,285.97 88.82,287.82 87.23,286.73 85.65,287.82 86.19,285.97 84.67,284.80 86.59,284.74" fill="#fff" stroke="#ff2020" stroke-width="0.7"/><path d="M87.23,282.93 L87.88,284.74 L89.80,284.80 L88.28,285.97 L88.82,287.82 L87.23,286.73 Z" fill="#ff2020"/>
<polygon points="101.59,280.82 102.24,282.63 104.16,282.69 102.64,283.86 103.18,285.71 101.59,284.62 100.00,285.71 100.55,283.86 99.02,282.69 100.95,282.63" fill="#fff" stroke="#ff2020" stroke-width="0.7"/><path d="M101.59,280.82 L102.24,282.63 L104.16,282.69 L102.64,283.86 L103.18,285.71 L101.59,284.62 Z" fill="#ff2020"/>
<polygon points="115.95,274.04 116.60,275.85 118.52,275.90 117.00,277.08 117.54,278.92 115.95,277.84 114.36,278.92 114.90,277.08 113.38,275.90 115.30,275.85" fill="#fff" stroke="#ff2020" stroke-width="0.7"/><path d="M115.95,274.04 L116.60,275.85 L118.52,275.90 L117.00,277.08 L117.54,278.92 L115.95,277.84 Z" fill="#ff2020"/>
<polygon points="130.31,267.64 130.95,269.45 132.88,269.51 131.35,270.68 131.90,272.53 130.31,271.44 128.72,272.53 129.26,270.68 127.74,269.51 129.66,269.45" fill="#fff" stroke="#ff2020" stroke-width="0.7"/><path d="M130.31,267.64 L130.95,269.45 L132.88,269.51 L131.35,270.68 L131.90,272.53 L130.31,271.44 Z" fill="#ff2020"/>
<polygon points="144.67,260.03 145.31,261.84 147.23,261.89 145.71,263.07 146.25,264.91 144.67,263.83 143.08,264.91 143.62,263.07 142.10,261.89 144.02,261.84" fill="#fff" stroke="#ff2020" stroke-width="0.7"/><path d="M144.67,260.03 L145.31,261.84 L147.23,261.89 L145.71,263.07 L146.25,264.91 L144.67,263.83 Z" fill="#ff2020"/>
<polygon points="159.03,245.40 159.67,247.21 161.59,247.27 160.07,248.44 160.61,250.29 159.03,249.20 157.44,250.29 157.98,248.44 156.46,247.27 158.38,247.21" fill="#fff" stroke="#ff2020" stroke-width="0.7"/><path d="M159.03,245.40 L159.67,247.21 L161.59,247.27 L160.07,248.44 L160.61,250.29 L159.03,249.20 Z" fill="#ff2020"/>
<polygon points="173.38,222.72 174.03,224.53 175.95,224.58 174.43,225.76 174.97,227.60 173.38,226.52 171.80,227.60 172.34,225.76 170.82,224.58 172.74,224.53" fill="#fff" stroke="#ff2020" stroke-width="0.7"/><path d="M173.38,222.72 L174.03,224.53 L175.95,224.58 L174.43,225.76 L174.97,227.60 L173.38,226.52 Z" fill="#ff2020"/>
<polygon points="187.74,176.07 188.39,177.88 190.31,177.94 188.79,179.11 189.33,180.96 187.74,179.87 186.15,180.96 186.70,179.11 185.17,177.94 187.10,177.88" fill="#fff" stroke="#ff2020" stroke-width="0.7"/><path d="M187.74,176.07 L188.39,177.88 L190.31,177.94 L188.79,179.11 L189.33,180.96 L187.74,179.87 Z" fill="#ff2020"/>
<rect x="110.90" y="180.00" width="47.00" height="24.20" fill="#fff" stroke="#9a9a9a" stroke-width="0.9"/>
<line x1="111.60" y1="185.30" x2="128.30" y2="185.30" stroke="#1f6fc4" stroke-width="1.4" stroke-dasharray="2.6,1.9"/>
<line x1="111.60" y1="197.20" x2="128.30" y2="197.20" stroke="#ff2020" stroke-width="1.0"/>
<circle cx="121.30" cy="185.30" r="2.10" fill="#fff" stroke="#0a4fa8" stroke-width="0.8"/><path d="M121.30,182.80 A2.50,2.50 0 0 0 121.30,187.80 Z" fill="#0a4fa8"/>
<polygon points="121.30,194.50 121.95,196.31 123.87,196.37 122.35,197.54 122.89,199.38 121.30,198.30 119.71,199.38 120.25,197.54 118.73,196.37 120.65,196.31" fill="#fff" stroke="#ff2020" stroke-width="0.7"/><path d="M121.30,194.50 L121.95,196.31 L123.87,196.37 L122.35,197.54 L122.89,199.38 L121.30,198.30 Z" fill="#ff2020"/>
<text x="131.60" y="187.70" font-size="7.8">Bi<tspan font-size="5.3" dy="1.8">2</tspan><tspan dy="-1.8">S</tspan><tspan font-size="5.3" dy="1.8">2</tspan><tspan dy="-1.8">Se</tspan></text>
<text x="131.60" y="199.60" font-size="7.8">Bi<tspan font-size="5.3" dy="1.8">2</tspan><tspan dy="-1.8">Se</tspan><tspan font-size="5.3" dy="1.8">2</tspan><tspan dy="-1.8">S</tspan></text>
<text x="32.0" y="186.0" font-size="14.5">(d)</text>
<text transform="translate(9.50,244.00) rotate(-90)" text-anchor="middle" font-size="10.0">|d<tspan font-size="7" dy="2">22</tspan><tspan dy="-2">| (pm/V)</tspan></text>
<rect x="227.90" y="173.70" width="172.80" height="138.80" fill="none" stroke="#000" stroke-width="1.4"/>
<path d="M227.90,312.50v3 M227.90,173.70v2.6 M256.70,312.50v3 M256.70,173.70v2.6 M285.50,312.50v3 M285.50,173.70v2.6 M314.30,312.50v3 M314.30,173.70v2.6 M343.10,312.50v3 M343.10,173.70v2.6 M371.90,312.50v3 M371.90,173.70v2.6 M400.70,312.50v3 M400.70,173.70v2.6 M242.30,312.50v1.8 M242.30,173.70v1.6 M271.10,312.50v1.8 M271.10,173.70v1.6 M299.90,312.50v1.8 M299.90,173.70v1.6 M328.70,312.50v1.8 M328.70,173.70v1.6 M357.50,312.50v1.8 M357.50,173.70v1.6 M386.30,312.50v1.8 M386.30,173.70v1.6 M227.90,312.50h-3 M400.70,312.50h-2.6 M227.90,289.37h-3 M400.70,289.37h-2.6 M227.90,266.23h-3 M400.70,266.23h-2.6 M227.90,243.10h-3 M400.70,243.10h-2.6 M227.90,219.97h-3 M400.70,219.97h-2.6 M227.90,196.83h-3 M400.70,196.83h-2.6 M227.90,173.70h-3 M400.70,173.70h-2.6 M227.90,300.93h-1.8 M400.70,300.93h-1.6 M227.90,277.80h-1.8 M400.70,277.80h-1.6 M227.90,254.67h-1.8 M400.70,254.67h-1.6 M227.90,231.53h-1.8 M400.70,231.53h-1.6 M227.90,208.40h-1.8 M400.70,208.40h-1.6 M227.90,185.27h-1.8 M400.70,185.27h-1.6" stroke="#000" stroke-width="1.2" fill="none"/>
<text x="227.90" y="324.80" text-anchor="middle" font-size="10.0">-6</text>
<text x="256.70" y="324.80" text-anchor="middle" font-size="10.0">-4</text>
<text x="285.50" y="324.80" text-anchor="middle" font-size="10.0">-2</text>
<text x="314.30" y="324.80" text-anchor="middle" font-size="10.0">0</text>
<text x="343.10" y="324.80" text-anchor="middle" font-size="10.0">2</text>
<text x="371.90" y="324.80" text-anchor="middle" font-size="10.0">4</text>
<text x="400.70" y="324.80" text-anchor="middle" font-size="10.0">6</text>
<text x="223.30" y="315.90" text-anchor="end" font-size="10.0">0</text>
<text x="223.30" y="292.77" text-anchor="end" font-size="10.0">1</text>
<text x="223.30" y="269.63" text-anchor="end" font-size="10.0">2</text>
<text x="223.30" y="246.50" text-anchor="end" font-size="10.0">3</text>
<text x="223.30" y="223.37" text-anchor="end" font-size="10.0">4</text>
<text x="223.30" y="200.23" text-anchor="end" font-size="10.0">5</text>
<text x="223.30" y="177.10" text-anchor="end" font-size="10.0">6</text>
<text x="314.30" y="336.00" text-anchor="middle" font-size="10">Biaxial Strain (%)</text>
<path d="M242.30,210.25 L256.70,195.21 L271.10,258.83 L285.50,275.95 L299.90,296.31 L314.30,308.10 L328.70,298.62 L343.10,308.10 L357.50,309.26 L371.90,308.10 L386.30,303.71" fill="none" stroke="#1f6fc4" stroke-width="1.5" stroke-dasharray="2.6,1.9" stroke-linejoin="round"/>
<circle cx="242.30" cy="210.25" r="2.10" fill="#fff" stroke="#0a4fa8" stroke-width="0.8"/><path d="M242.30,207.75 A2.50,2.50 0 0 0 242.30,212.75 Z" fill="#0a4fa8"/>
<circle cx="256.70" cy="195.21" r="2.10" fill="#fff" stroke="#0a4fa8" stroke-width="0.8"/><path d="M256.70,192.71 A2.50,2.50 0 0 0 256.70,197.71 Z" fill="#0a4fa8"/>
<circle cx="271.10" cy="258.83" r="2.10" fill="#fff" stroke="#0a4fa8" stroke-width="0.8"/><path d="M271.10,256.33 A2.50,2.50 0 0 0 271.10,261.33 Z" fill="#0a4fa8"/>
<circle cx="285.50" cy="275.95" r="2.10" fill="#fff" stroke="#0a4fa8" stroke-width="0.8"/><path d="M285.50,273.45 A2.50,2.50 0 0 0 285.50,278.45 Z" fill="#0a4fa8"/>
<circle cx="299.90" cy="296.31" r="2.10" fill="#fff" stroke="#0a4fa8" stroke-width="0.8"/><path d="M299.90,293.81 A2.50,2.50 0 0 0 299.90,298.81 Z" fill="#0a4fa8"/>
<circle cx="314.30" cy="308.10" r="2.10" fill="#fff" stroke="#0a4fa8" stroke-width="0.8"/><path d="M314.30,305.60 A2.50,2.50 0 0 0 314.30,310.60 Z" fill="#0a4fa8"/>
<circle cx="328.70" cy="298.62" r="2.10" fill="#fff" stroke="#0a4fa8" stroke-width="0.8"/><path d="M328.70,296.12 A2.50,2.50 0 0 0 328.70,301.12 Z" fill="#0a4fa8"/>
<circle cx="343.10" cy="308.10" r="2.10" fill="#fff" stroke="#0a4fa8" stroke-width="0.8"/><path d="M343.10,305.60 A2.50,2.50 0 0 0 343.10,310.60 Z" fill="#0a4fa8"/>
<circle cx="357.50" cy="309.26" r="2.10" fill="#fff" stroke="#0a4fa8" stroke-width="0.8"/><path d="M357.50,306.76 A2.50,2.50 0 0 0 357.50,311.76 Z" fill="#0a4fa8"/>
<circle cx="371.90" cy="308.10" r="2.10" fill="#fff" stroke="#0a4fa8" stroke-width="0.8"/><path d="M371.90,305.60 A2.50,2.50 0 0 0 371.90,310.60 Z" fill="#0a4fa8"/>
<circle cx="386.30" cy="303.71" r="2.10" fill="#fff" stroke="#0a4fa8" stroke-width="0.8"/><path d="M386.30,301.21 A2.50,2.50 0 0 0 386.30,306.21 Z" fill="#0a4fa8"/>
<path d="M242.30,213.49 L256.70,192.21 L271.10,260.45 L285.50,279.65 L299.90,300.93 L314.30,308.34 L328.70,307.64 L343.10,296.08 L357.50,291.45 L371.90,286.59 L386.30,301.86" fill="none" stroke="#ff2020" stroke-width="1.1"  stroke-linejoin="round"/>
<polygon points="242.30,210.79 242.95,212.60 244.87,212.65 243.35,213.83 243.89,215.67 242.30,214.59 240.71,215.67 241.25,213.83 239.73,212.65 241.65,212.60" fill="#fff" stroke="#ff2020" stroke-width="0.7"/><path d="M242.30,210.79 L242.95,212.60 L244.87,212.65 L243.35,213.83 L243.89,215.67 L242.30,214.59 Z" fill="#ff2020"/>
<polygon points="256.70,189.51 257.35,191.32 259.27,191.37 257.75,192.55 258.29,194.39 256.70,193.31 255.11,194.39 255.65,192.55 254.13,191.37 256.05,191.32" fill="#fff" stroke="#ff2020" stroke-width="0.7"/><path d="M256.70,189.51 L257.35,191.32 L259.27,191.37 L257.75,192.55 L258.29,194.39 L256.70,193.31 Z" fill="#ff2020"/>
<polygon points="271.10,257.75 271.75,259.56 273.67,259.62 272.15,260.79 272.69,262.63 271.10,261.55 269.51,262.63 270.05,260.79 268.53,259.62 270.45,259.56" fill="#fff" stroke="#ff2020" stroke-width="0.7"/><path d="M271.10,257.75 L271.75,259.56 L273.67,259.62 L272.15,260.79 L272.69,262.63 L271.10,261.55 Z" fill="#ff2020"/>
<polygon points="285.50,276.95 286.15,278.76 288.07,278.82 286.55,279.99 287.09,281.84 285.50,280.75 283.91,281.84 284.45,279.99 282.93,278.82 284.85,278.76" fill="#fff" stroke="#ff2020" stroke-width="0.7"/><path d="M285.50,276.95 L286.15,278.76 L288.07,278.82 L286.55,279.99 L287.09,281.84 L285.50,280.75 Z" fill="#ff2020"/>
<polygon points="299.90,298.23 300.55,300.04 302.47,300.10 300.95,301.27 301.49,303.12 299.90,302.03 298.31,303.12 298.85,301.27 297.33,300.10 299.25,300.04" fill="#fff" stroke="#ff2020" stroke-width="0.7"/><path d="M299.90,298.23 L300.55,300.04 L302.47,300.10 L300.95,301.27 L301.49,303.12 L299.90,302.03 Z" fill="#ff2020"/>
<polygon points="314.30,305.64 314.95,307.45 316.87,307.50 315.35,308.68 315.89,310.52 314.30,309.44 312.71,310.52 313.25,308.68 311.73,307.50 313.65,307.45" fill="#fff" stroke="#ff2020" stroke-width="0.7"/><path d="M314.30,305.64 L314.95,307.45 L316.87,307.50 L315.35,308.68 L315.89,310.52 L314.30,309.44 Z" fill="#ff2020"/>
<polygon points="328.70,304.94 329.35,306.75 331.27,306.81 329.75,307.98 330.29,309.83 328.70,308.74 327.11,309.83 327.65,307.98 326.13,306.81 328.05,306.75" fill="#fff" stroke="#ff2020" stroke-width="0.7"/><path d="M328.70,304.94 L329.35,306.75 L331.27,306.81 L329.75,307.98 L330.29,309.83 L328.70,308.74 Z" fill="#ff2020"/>
<polygon points="343.10,293.38 343.75,295.19 345.67,295.24 344.15,296.42 344.69,298.26 343.10,297.18 341.51,298.26 342.05,296.42 340.53,295.24 342.45,295.19" fill="#fff" stroke="#ff2020" stroke-width="0.7"/><path d="M343.10,293.38 L343.75,295.19 L345.67,295.24 L344.15,296.42 L344.69,298.26 L343.10,297.18 Z" fill="#ff2020"/>
<polygon points="357.50,288.75 358.15,290.56 360.07,290.61 358.55,291.79 359.09,293.63 357.50,292.55 355.91,293.63 356.45,291.79 354.93,290.61 356.85,290.56" fill="#fff" stroke="#ff2020" stroke-width="0.7"/><path d="M357.50,288.75 L358.15,290.56 L360.07,290.61 L358.55,291.79 L359.09,293.63 L357.50,292.55 Z" fill="#ff2020"/>
<polygon points="371.90,283.89 372.55,285.70 374.47,285.76 372.95,286.93 373.49,288.78 371.90,287.69 370.31,288.78 370.85,286.93 369.33,285.76 371.25,285.70" fill="#fff" stroke="#ff2020" stroke-width="0.7"/><path d="M371.90,283.89 L372.55,285.70 L374.47,285.76 L372.95,286.93 L373.49,288.78 L371.90,287.69 Z" fill="#ff2020"/>
<polygon points="386.30,299.16 386.95,300.97 388.87,301.02 387.35,302.20 387.89,304.04 386.30,302.96 384.71,304.04 385.25,302.20 383.73,301.02 385.65,300.97" fill="#fff" stroke="#ff2020" stroke-width="0.7"/><path d="M386.30,299.16 L386.95,300.97 L388.87,301.02 L387.35,302.20 L387.89,304.04 L386.30,302.96 Z" fill="#ff2020"/>
<rect x="348.60" y="177.60" width="46.50" height="24.60" fill="#fff" stroke="#9a9a9a" stroke-width="0.9"/>
<line x1="349.30" y1="184.00" x2="367.20" y2="184.00" stroke="#1f6fc4" stroke-width="1.4" stroke-dasharray="2.6,1.9"/>
<line x1="349.30" y1="195.30" x2="367.20" y2="195.30" stroke="#ff2020" stroke-width="1.0"/>
<circle cx="358.60" cy="184.00" r="2.10" fill="#fff" stroke="#0a4fa8" stroke-width="0.8"/><path d="M358.60,181.50 A2.50,2.50 0 0 0 358.60,186.50 Z" fill="#0a4fa8"/>
<polygon points="358.60,192.60 359.25,194.41 361.17,194.47 359.65,195.64 360.19,197.48 358.60,196.40 357.01,197.48 357.55,195.64 356.03,194.47 357.95,194.41" fill="#fff" stroke="#ff2020" stroke-width="0.7"/><path d="M358.60,192.60 L359.25,194.41 L361.17,194.47 L359.65,195.64 L360.19,197.48 L358.60,196.40 Z" fill="#ff2020"/>
<text x="369.00" y="186.40" font-size="7.8">Bi<tspan font-size="5.3" dy="1.8">2</tspan><tspan dy="-1.8">S</tspan><tspan font-size="5.3" dy="1.8">2</tspan><tspan dy="-1.8">Se</tspan></text>
<text x="369.00" y="197.70" font-size="7.8">Bi<tspan font-size="5.3" dy="1.8">2</tspan><tspan dy="-1.8">Se</tspan><tspan font-size="5.3" dy="1.8">2</tspan><tspan dy="-1.8">S</tspan></text>
<text x="229.8" y="185.6" font-size="14.5">(e)</text>
<text transform="translate(212.60,244.00) rotate(-90)" text-anchor="middle" font-size="10.0">|d<tspan font-size="7" dy="2">31</tspan><tspan dy="-2">| (pm/V)</tspan></text>
<rect x="441.10" y="173.50" width="172.70" height="139.30" fill="none" stroke="#000" stroke-width="1.4"/>
<path d="M441.10,312.80v3 M441.10,173.50v2.6 M469.88,312.80v3 M469.88,173.50v2.6 M498.67,312.80v3 M498.67,173.50v2.6 M527.45,312.80v3 M527.45,173.50v2.6 M556.23,312.80v3 M556.23,173.50v2.6 M585.02,312.80v3 M585.02,173.50v2.6 M613.80,312.80v3 M613.80,173.50v2.6 M455.49,312.80v1.8 M455.49,173.50v1.6 M484.27,312.80v1.8 M484.27,173.50v1.6 M513.06,312.80v1.8 M513.06,173.50v1.6 M541.84,312.80v1.8 M541.84,173.50v1.6 M570.62,312.80v1.8 M570.62,173.50v1.6 M599.41,312.80v1.8 M599.41,173.50v1.6 M441.10,292.90h-3 M613.80,292.90h-2.6 M441.10,253.10h-3 M613.80,253.10h-2.6 M441.10,213.30h-3 M613.80,213.30h-2.6 M441.10,173.50h-3 M613.80,173.50h-2.6 M441.10,312.80h-1.8 M613.80,312.80h-1.6 M441.10,273.00h-1.8 M613.80,273.00h-1.6 M441.10,233.20h-1.8 M613.80,233.20h-1.6 M441.10,193.40h-1.8 M613.80,193.40h-1.6" stroke="#000" stroke-width="1.2" fill="none"/>
<text x="441.10" y="325.10" text-anchor="middle" font-size="10.0">-6</text>
<text x="469.88" y="325.10" text-anchor="middle" font-size="10.0">-4</text>
<text x="498.67" y="325.10" text-anchor="middle" font-size="10.0">-2</text>
<text x="527.45" y="325.10" text-anchor="middle" font-size="10.0">0</text>
<text x="556.23" y="325.10" text-anchor="middle" font-size="10.0">2</text>
<text x="585.02" y="325.10" text-anchor="middle" font-size="10.0">4</text>
<text x="613.80" y="325.10" text-anchor="middle" font-size="10.0">6</text>
<text x="436.50" y="296.30" text-anchor="end" font-size="10.0">0</text>
<text x="436.50" y="256.50" text-anchor="end" font-size="10.0">2000</text>
<text x="436.50" y="216.70" text-anchor="end" font-size="10.0">4000</text>
<text x="436.50" y="176.90" text-anchor="end" font-size="10.0">6000</text>
<text x="527.45" y="336.30" text-anchor="middle" font-size="10">Biaxial Strain (%)</text>
<path d="M455.49,250.41 L469.88,235.59 L484.27,255.89 L498.67,268.34 L513.06,282.07 L527.45,292.00 L541.84,286.43 L556.23,291.31 L570.62,291.31 L585.02,290.99 L599.41,290.49" fill="none" stroke="#1f6fc4" stroke-width="1.5" stroke-dasharray="2.6,1.9" stroke-linejoin="round"/>
<circle cx="455.49" cy="250.41" r="2.10" fill="#fff" stroke="#0a4fa8" stroke-width="0.8"/><path d="M455.49,247.91 A2.50,2.50 0 0 0 455.49,252.91 Z" fill="#0a4fa8"/>
<circle cx="469.88" cy="235.59" r="2.10" fill="#fff" stroke="#0a4fa8" stroke-width="0.8"/><path d="M469.88,233.09 A2.50,2.50 0 0 0 469.88,238.09 Z" fill="#0a4fa8"/>
<circle cx="484.27" cy="255.89" r="2.10" fill="#fff" stroke="#0a4fa8" stroke-width="0.8"/><path d="M484.27,253.39 A2.50,2.50 0 0 0 484.27,258.39 Z" fill="#0a4fa8"/>
<circle cx="498.67" cy="268.34" r="2.10" fill="#fff" stroke="#0a4fa8" stroke-width="0.8"/><path d="M498.67,265.84 A2.50,2.50 0 0 0 498.67,270.84 Z" fill="#0a4fa8"/>
<circle cx="513.06" cy="282.07" r="2.10" fill="#fff" stroke="#0a4fa8" stroke-width="0.8"/><path d="M513.06,279.57 A2.50,2.50 0 0 0 513.06,284.57 Z" fill="#0a4fa8"/>
<circle cx="527.45" cy="292.00" r="2.10" fill="#fff" stroke="#0a4fa8" stroke-width="0.8"/><path d="M527.45,289.50 A2.50,2.50 0 0 0 527.45,294.50 Z" fill="#0a4fa8"/>
<circle cx="541.84" cy="286.43" r="2.10" fill="#fff" stroke="#0a4fa8" stroke-width="0.8"/><path d="M541.84,283.93 A2.50,2.50 0 0 0 541.84,288.93 Z" fill="#0a4fa8"/>
<circle cx="556.23" cy="291.31" r="2.10" fill="#fff" stroke="#0a4fa8" stroke-width="0.8"/><path d="M556.23,288.81 A2.50,2.50 0 0 0 556.23,293.81 Z" fill="#0a4fa8"/>
<circle cx="570.62" cy="291.31" r="2.10" fill="#fff" stroke="#0a4fa8" stroke-width="0.8"/><path d="M570.62,288.81 A2.50,2.50 0 0 0 570.62,293.81 Z" fill="#0a4fa8"/>
<circle cx="585.02" cy="290.99" r="2.10" fill="#fff" stroke="#0a4fa8" stroke-width="0.8"/><path d="M585.02,288.49 A2.50,2.50 0 0 0 585.02,293.49 Z" fill="#0a4fa8"/>
<circle cx="599.41" cy="290.49" r="2.10" fill="#fff" stroke="#0a4fa8" stroke-width="0.8"/><path d="M599.41,287.99 A2.50,2.50 0 0 0 599.41,292.99 Z" fill="#0a4fa8"/>
<path d="M455.49,196.01 L469.88,235.59 L484.27,273.36 L498.67,272.66 L513.06,283.98 L527.45,288.70 L541.84,291.71 L556.23,282.79 L570.62,282.79 L585.02,277.68 L599.41,287.19" fill="none" stroke="#ff2020" stroke-width="1.1"  stroke-linejoin="round"/>
<polygon points="455.49,193.31 456.14,195.12 458.06,195.17 456.54,196.35 457.08,198.19 455.49,197.11 453.90,198.19 454.45,196.35 452.92,195.17 454.85,195.12" fill="#fff" stroke="#ff2020" stroke-width="0.7"/><path d="M455.49,193.31 L456.14,195.12 L458.06,195.17 L456.54,196.35 L457.08,198.19 L455.49,197.11 Z" fill="#ff2020"/>
<polygon points="469.88,232.89 470.53,234.70 472.45,234.75 470.93,235.93 471.47,237.77 469.88,236.69 468.30,237.77 468.84,235.93 467.32,234.75 469.24,234.70" fill="#fff" stroke="#ff2020" stroke-width="0.7"/><path d="M469.88,232.89 L470.53,234.70 L472.45,234.75 L470.93,235.93 L471.47,237.77 L469.88,236.69 Z" fill="#ff2020"/>
<polygon points="484.27,270.66 484.92,272.47 486.84,272.52 485.32,273.70 485.86,275.54 484.27,274.46 482.69,275.54 483.23,273.70 481.71,272.52 483.63,272.47" fill="#fff" stroke="#ff2020" stroke-width="0.7"/><path d="M484.27,270.66 L484.92,272.47 L486.84,272.52 L485.32,273.70 L485.86,275.54 L484.27,274.46 Z" fill="#ff2020"/>
<polygon points="498.67,269.96 499.31,271.77 501.23,271.83 499.71,273.00 500.25,274.85 498.67,273.76 497.08,274.85 497.62,273.00 496.10,271.83 498.02,271.77" fill="#fff" stroke="#ff2020" stroke-width="0.7"/><path d="M498.67,269.96 L499.31,271.77 L501.23,271.83 L499.71,273.00 L500.25,274.85 L498.67,273.76 Z" fill="#ff2020"/>
<polygon points="513.06,281.28 513.70,283.09 515.63,283.15 514.10,284.32 514.65,286.17 513.06,285.08 511.47,286.17 512.01,284.32 510.49,283.15 512.41,283.09" fill="#fff" stroke="#ff2020" stroke-width="0.7"/><path d="M513.06,281.28 L513.70,283.09 L515.63,283.15 L514.10,284.32 L514.65,286.17 L513.06,285.08 Z" fill="#ff2020"/>
<polygon points="527.45,286.00 528.10,287.81 530.02,287.87 528.50,289.04 529.04,290.89 527.45,289.80 525.86,290.89 526.40,289.04 524.88,287.87 526.80,287.81" fill="#fff" stroke="#ff2020" stroke-width="0.7"/><path d="M527.45,286.00 L528.10,287.81 L530.02,287.87 L528.50,289.04 L529.04,290.89 L527.45,289.80 Z" fill="#ff2020"/>
<polygon points="541.84,289.01 542.49,290.82 544.41,290.87 542.89,292.05 543.43,293.89 541.84,292.81 540.25,293.89 540.80,292.05 539.27,290.87 541.20,290.82" fill="#fff" stroke="#ff2020" stroke-width="0.7"/><path d="M541.84,289.01 L542.49,290.82 L544.41,290.87 L542.89,292.05 L543.43,293.89 L541.84,292.81 Z" fill="#ff2020"/>
<polygon points="556.23,280.09 556.88,281.90 558.80,281.96 557.28,283.13 557.82,284.98 556.23,283.89 554.65,284.98 555.19,283.13 553.67,281.96 555.59,281.90" fill="#fff" stroke="#ff2020" stroke-width="0.7"/><path d="M556.23,280.09 L556.88,281.90 L558.80,281.96 L557.28,283.13 L557.82,284.98 L556.23,283.89 Z" fill="#ff2020"/>
<polygon points="570.62,280.09 571.27,281.90 573.19,281.96 571.67,283.13 572.21,284.98 570.62,283.89 569.04,284.98 569.58,283.13 568.06,281.96 569.98,281.90" fill="#fff" stroke="#ff2020" stroke-width="0.7"/><path d="M570.62,280.09 L571.27,281.90 L573.19,281.96 L571.67,283.13 L572.21,284.98 L570.62,283.89 Z" fill="#ff2020"/>
<polygon points="585.02,274.98 585.66,276.79 587.58,276.84 586.06,278.02 586.60,279.86 585.02,278.78 583.43,279.86 583.97,278.02 582.45,276.84 584.37,276.79" fill="#fff" stroke="#ff2020" stroke-width="0.7"/><path d="M585.02,274.98 L585.66,276.79 L587.58,276.84 L586.06,278.02 L586.60,279.86 L585.02,278.78 Z" fill="#ff2020"/>
<polygon points="599.41,284.49 600.05,286.30 601.98,286.35 600.45,287.53 601.00,289.37 599.41,288.29 597.82,289.37 598.36,287.53 596.84,286.35 598.76,286.30" fill="#fff" stroke="#ff2020" stroke-width="0.7"/><path d="M599.41,284.49 L600.05,286.30 L601.98,286.35 L600.45,287.53 L601.00,289.37 L599.41,288.29 Z" fill="#ff2020"/>
<rect x="562.60" y="177.20" width="47.10" height="23.90" fill="#fff" stroke="#9a9a9a" stroke-width="0.9"/>
<line x1="563.30" y1="183.60" x2="581.20" y2="183.60" stroke="#1f6fc4" stroke-width="1.4" stroke-dasharray="2.6,1.9"/>
<line x1="563.30" y1="194.90" x2="581.20" y2="194.90" stroke="#ff2020" stroke-width="1.0"/>
<circle cx="572.60" cy="183.60" r="2.10" fill="#fff" stroke="#0a4fa8" stroke-width="0.8"/><path d="M572.60,181.10 A2.50,2.50 0 0 0 572.60,186.10 Z" fill="#0a4fa8"/>
<polygon points="572.60,192.20 573.25,194.01 575.17,194.07 573.65,195.24 574.19,197.08 572.60,196.00 571.01,197.08 571.55,195.24 570.03,194.07 571.95,194.01" fill="#fff" stroke="#ff2020" stroke-width="0.7"/><path d="M572.60,192.20 L573.25,194.01 L575.17,194.07 L573.65,195.24 L574.19,197.08 L572.60,196.00 Z" fill="#ff2020"/>
<text x="583.80" y="186.00" font-size="7.8">Bi<tspan font-size="5.3" dy="1.8">2</tspan><tspan dy="-1.8">S</tspan><tspan font-size="5.3" dy="1.8">2</tspan><tspan dy="-1.8">Se</tspan></text>
<text x="583.80" y="197.30" font-size="7.8">Bi<tspan font-size="5.3" dy="1.8">2</tspan><tspan dy="-1.8">Se</tspan><tspan font-size="5.3" dy="1.8">2</tspan><tspan dy="-1.8">S</tspan></text>
<text x="443.0" y="185.6" font-size="14.5">(f)</text>
<text transform="translate(412.60,243.00) rotate(-90)" text-anchor="middle" font-size="10.0">|d<tspan font-size="7" dy="2">33</tspan><tspan dy="-2">| (pm/V)</tspan></text>
</g>
</svg></body></html>
